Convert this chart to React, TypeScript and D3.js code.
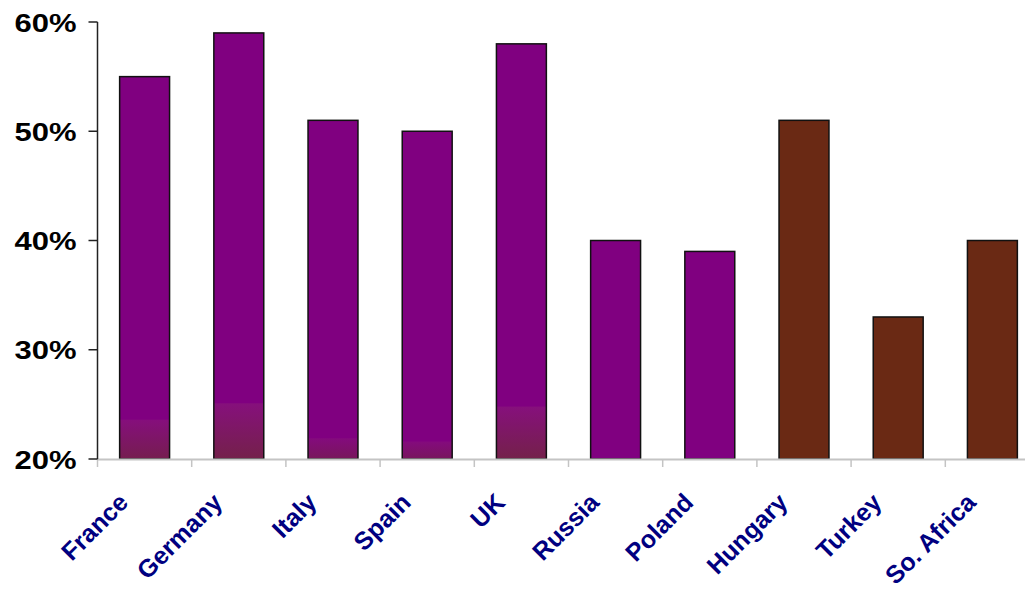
import React from "react";
import * as d3 from "d3";

// Share of respondents by country (percent)
const countries = ["France", "Germany", "Italy", "Spain", "UK", "Russia", "Poland", "Hungary", "Turkey", "So. Africa"];
const values = [55, 59, 51, 50, 58, 40, 39, 51, 33, 40];
// Group: 0 = European block, 1 = emerging block
const groups = [0, 0, 0, 0, 0, 0, 0, 1, 1, 1];
// Level (percent) where the darker base band on each bar starts
const baseShade = [23.6, 25.1, 21.9, 21.6, 24.8, 20, 20, 20, 20, 20];
const yTicks = [20, 30, 40, 50, 60];

const W = 1025;
const H = 589;
const margin = { left: 97.5, top: 22, bottom: 459 };
const groupFill = ["#800080", "#6A2914"];

export default function App() {
  const x = d3
    .scaleBand<string>()
    .domain(countries)
    .range([margin.left, margin.left + 942])
    .paddingInner(0.47)
    .paddingOuter(0.235);
  const y = d3.scaleLinear().domain([20, 60]).range([margin.bottom, margin.top]);
  const step = x.step();
  const boundaries = d3.range(countries.length + 1).map((i) => margin.left + i * step);

  return (
    <svg
      width={W}
      height={H}
      style={{ position: "absolute", left: 0, top: 0, background: "#fff" }}
      fontFamily="'Liberation Sans', Arial, sans-serif"
    >
      <defs>
        <linearGradient id="baseShade" x1="0" y1="0" x2="0" y2="1">
          <stop offset="0" stopColor="#86107c" />
          <stop offset="1" stopColor="#74214a" />
        </linearGradient>
      </defs>

      {/* bars */}
      {countries.map((c, i) => {
        const x0 = x(c)!;
        const bw = x.bandwidth();
        const top = y(values[i]);
        return (
          <g key={c}>
            <rect x={x0} y={top} width={bw} height={y(20) - top} fill={groupFill[groups[i]]} />
            {baseShade[i] > 20 && (
              <rect
                x={x0}
                y={y(baseShade[i])}
                width={bw}
                height={y(20) - y(baseShade[i])}
                fill="url(#baseShade)"
                opacity={Math.min(1, 0.45 + (baseShade[i] - 20) / 8)}
              />
            )}
            <rect
              x={x0}
              y={top}
              width={bw}
              height={y(20) - top}
              fill="none"
              stroke="#111"
              strokeWidth={1.5}
            />
          </g>
        );
      })}

      {/* x axis */}
      <line x1={margin.left} x2={W} y1={margin.bottom + 0.5} y2={margin.bottom + 0.5} stroke="#c4c4c4" strokeWidth={2} />
      {boundaries.map((bx, i) => (
        <line key={i} x1={bx} x2={bx} y1={margin.bottom} y2={margin.bottom + 8} stroke="#c4c4c4" strokeWidth={1.5} />
      ))}

      {/* y axis */}
      <line x1={margin.left} x2={margin.left} y1={y(60)} y2={y(20)} stroke="#222" strokeWidth={1.5} />
      {yTicks.map((t) => (
        <g key={t}>
          <line x1={margin.left - 9} x2={margin.left} y1={y(t)} y2={y(t)} stroke="#222" strokeWidth={1.5} />
          <text
            transform={`translate(76.5,${y(t) + 9.7}) scale(1.24,1)`}
            textAnchor="end"
            fontSize={25}
            fontWeight="bold"
            fill="#000"
          >
            {t}%
          </text>
        </g>
      ))}

      {/* category labels */}
      {countries.map((c) => {
        const cx = x(c)! + x.bandwidth() / 2 - 15;
        const cy = 504;
        return (
          <text
            key={c}
            transform={`translate(${cx},${cy}) rotate(-45)`}
            textAnchor="end"
            fontSize={25}
            fontWeight="bold"
            fill="#000080"
          >
            {c}
          </text>
        );
      })}
    </svg>
  );
}
